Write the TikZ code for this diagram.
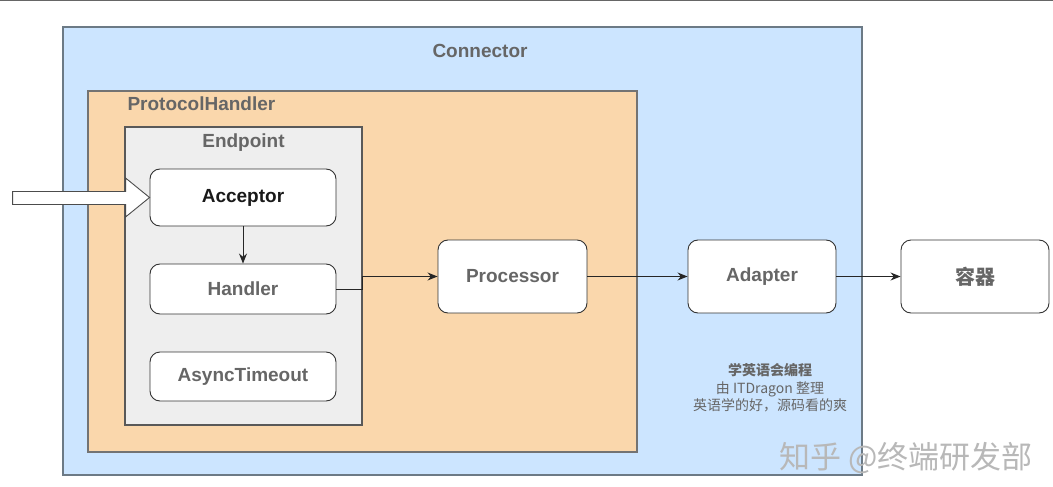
\documentclass[tikz,border=0pt]{standalone}
\usepackage{fontspec}
\setmainfont{Liberation Sans}
\newfontfamily\cjk{Noto Sans CJK SC}
\usetikzlibrary{arrows.meta}
\definecolor{connbg}{HTML}{CCE5FF}
\definecolor{phbg}{HTML}{FAD7AC}
\definecolor{epbg}{HTML}{EEEEEE}
\definecolor{txtgray}{HTML}{666666}
\definecolor{bordgray}{HTML}{6C7A86}
\tikzset{
  container/.style={draw=bordgray, line width=1.1pt, minimum width=#1},
  lbl/.style={font=\fontsize{19}{22}\selectfont\bfseries, text=txtgray},
  rbox/.style={draw=black!80, fill=white, rounded corners=10pt, line width=0.9pt,
    font=\fontsize{19}{22}\selectfont\bfseries, text=txtgray},
  conn/.style={line width=1pt, draw=black!85, -{Stealth[length=10pt,width=8pt]}},
}
\begin{document}
\begin{tikzpicture}[x=1pt,y=-1pt]
\useasboundingbox (0,0) rectangle (1053,487);
\fill[white] (0,0) rectangle (1053,487);
\draw[black!60, line width=1pt] (0,0.5) -- (1053,0.5);
% containers
\node[container=799pt, fill=connbg, minimum height=448pt] (connector) at (462.5,251) {};
\node[lbl] (connlbl) at (480,51) {Connector};
\node[container=549pt, fill=phbg, minimum height=361pt, draw=black!55] (ph) at (362.5,271.5) {};
\node[lbl, anchor=west] (phlbl) at (124,104) {ProtocolHandler};
\node[container=237pt, fill=epbg, minimum height=298pt, draw=black!65] (ep) at (243.5,276) {};
\node[lbl] (eplbl) at (243.5,143) {Endpoint};
% inner nodes
\node[rbox, minimum width=186pt, minimum height=57pt, text=black!90] (acc) at (243,197.5) {Acceptor};
\node[rbox, minimum width=186pt, minimum height=50pt] (hand) at (243,289) {Handler};
\node[rbox, minimum width=186pt, minimum height=49pt] (async) at (243,376.5) {AsyncTimeout};
\node[rbox, minimum width=149pt, minimum height=73pt] (proc) at (512.5,276.5) {Processor};
\node[rbox, minimum width=148pt, minimum height=73pt] (adap) at (762,276.5) {Adapter};
\node[rbox, minimum width=148pt, minimum height=73pt, font=\fontsize{20}{22}\selectfont\cjk\bfseries] (cont) at (975,276.5) {容器};
% big input arrow
\draw[fill=white, draw=black!70, line width=0.9pt]
  (acc.west) -- ++(-24,-19.5) -- ++(0,13.5) -- ++(-113,0) -- ++(0,13)
  -- ++(113,0) -- ++(0,12.5) -- cycle;
% connectors
\draw[conn] (acc.south) -- (hand.north);
\draw[conn] (hand.east) -- ++(26,0) |- (proc.west);
\draw[conn] (proc.east) -- (adap.west);
\draw[conn] (adap.east) -- (cont.west);
% notes
\node[font=\fontsize{14}{17.5}\selectfont\cjk, text=txtgray, align=center] (note) at (770,388)
  {{\bfseries 学英语会编程}\\由 ITDragon 整理\\英语学的好，源码看的爽};
\node[font=\fontsize{31}{34}\selectfont\cjk, text=black!28, anchor=west] (wm) at (776,458) {知乎 @终端研发部};
\end{tikzpicture}
\end{document}
